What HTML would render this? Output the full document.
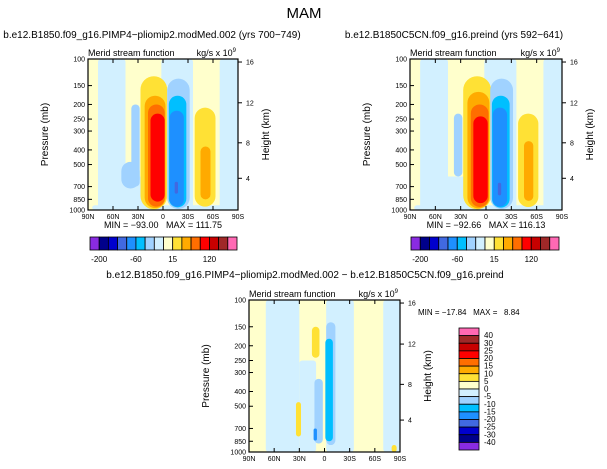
<!DOCTYPE html>
<html><head><meta charset="utf-8"><style>
body{margin:0;background:#fff;width:607px;height:469px;overflow:hidden;font-family:"Liberation Sans",sans-serif}
svg{display:block}
svg text{white-space:pre}
</style></head><body>
<svg id="c" width="607" height="469" xmlns="http://www.w3.org/2000/svg" font-family="Liberation Sans, sans-serif">
<text x="304" y="18" font-size="15" text-anchor="middle">MAM</text>
<text x="152" y="38" font-size="10" text-anchor="middle">b.e12.B1850.f09_g16.PIMP4−pliomip2.modMed.002 (yrs 700−749)</text>
<text x="454" y="38" font-size="10" text-anchor="middle">b.e12.B1850C5CN.f09_g16.preind (yrs 592−641)</text>
<text x="305" y="278" font-size="10" text-anchor="middle">b.e12.B1850.f09_g16.PIMP4−pliomip2.modMed.002 − b.e12.B1850C5CN.f09_g16.preind</text>
</svg>
<script>
const NS='http://www.w3.org/2000/svg';
const svg=document.getElementById('c');
const colors=['#8a2be2','#00008b','#0000cd','#4169e1','#1e90ff','#00bfff','#a0d2ff','#d2f0ff','#ffffcc','#ffe135','#ffaa00','#ff6e00','#ff0000','#c80000','#a02828','#ff69b4'];
const pressureTicks=[100,150,200,250,300,400,500,700,850,1000];
const latTicks=[90,60,30,0,-30,-60,-90];
const latLabels=['90N','60N','30N','0','30S','60S','90S'];
const kmTicks=[4,8,12,16];
const kmY=[0.79,0.555,0.29,0.02];
// blobs: lat0, lat1, p0, p1, level
const leftLat0=[90,78,55,85,2,-10,-68,38,50,27,22,18,15,-5,-7,-8,-14,-38,-45];
const leftLat1=[80,45,20,-90,-35,-36,-90,28,28,-5,-3,-2,-2,-32,-28,-25,-18,-63,-57];
const leftP0=[100,100,600,930,100,100,100,200,480,130,175,200,230,135,175,220,650,210,380];
const leftP1=[1000,1000,1000,1000,150,1000,1000,700,720,990,970,950,880,985,960,950,780,950,850];
const leftLev=[8,7,7,7,7,7,7,6,6,9,10,11,12,6,5,4,3,9,10];
const rightLat0=[90,78,55,85,2,-10,-68,38,27,22,18,15,-5,-7,-8,-14,-38,-45];
const rightLat1=[80,45,20,-90,-35,-36,-90,28,-6,-4,-3,-2,-32,-28,-25,-18,-62,-56];
const rightP0=[100,100,600,930,100,100,100,230,130,165,200,240,135,175,210,660,230,350];
const rightP1=[1000,1000,1000,1000,150,1000,1000,600,990,975,955,900,985,965,950,800,955,870];
const rightLev=[8,7,7,7,7,7,7,6,9,10,11,12,6,5,4,3,9,10];
const diffLat0=[70,30,-2,-70,15,34,-2,12,-1,13,-80];
const diffLat1=[30,10,-35,-90,6,28,-13,2,-10,9,-86];
const diffP0=[100,250,100,100,150,470,140,330,180,700,900];
const diffP1=[1000,1000,1000,1000,240,790,900,880,850,840,1000];
const diffLev=[7,7,7,7,9,9,6,6,5,4,9];
const leftLevels=['-200','-60','15','120'];
const diffLevels=['40','30','25','20','15','10','5','0','-5','-10','-15','-20','-25','-30','-40'];
function el(t,a,p){const e=document.createElementNS(NS,t);for(const k in a)e.setAttribute(k,a[k]);(p||svg).appendChild(e);return e;}
function panel(name,x0,y0,w,h,lat0,lat1,p0,p1,lev,minmax){
  const g=el('g',{});
  
  
  const X=l=>x0+(90-l)/180*w;
  const Y=p=>y0+Math.log10(p/100)*h;
  const clip=el('clipPath',{id:name+'clip'},g);el('rect',{x:x0,y:y0,width:w,height:h},clip);
  const cg=el('g',{'clip-path':'url(#'+name+'clip)'},g);
  el('rect',{x:x0,y:y0,width:w,height:h,fill:colors[8]},cg);
  for(let i=0;i<lat0.length;i++){
    const xa=X(lat0[i]),xb=X(lat1[i]),ya=Y(p0[i]),yb=Y(p1[i]);
    const round=(lev[i]===7||lev[i]===8)?3:Math.min((xb-xa)/2,14);
    const r=el('rect',{x:xa,y:ya,width:xb-xa,height:yb-ya,rx:Math.min((xb-xa)/2,round),ry:Math.min((yb-ya)/2,round),fill:colors[lev[i]]},cg);
    
    
  }
  el('rect',{x:x0,y:y0,width:w,height:h,fill:'none',stroke:'#000','stroke-width':1.2},g);
  pressureTicks.forEach(p=>{const y=Y(p);el('line',{x1:x0,x2:x0+4,y1:y,y2:y,stroke:'#000'},g);
    const t=el('text',{x:x0-3,y:y+2.5,'font-size':7,'text-anchor':'end'},g);t.textContent=p;
    });
  latTicks.forEach((l,i)=>{const x=X(l);el('line',{x1:x,x2:x,y1:y0+h,y2:y0+h-4,stroke:'#000'},g);el('line',{x1:x,x2:x,y1:y0,y2:y0+4,stroke:'#000'},g);
    const t=el('text',{x:x,y:y0+h+9,'font-size':7,'text-anchor':'middle'},g);t.textContent=latLabels[i];
    });
  kmTicks.forEach((k,i)=>{const y=y0+kmY[i]*h;el('line',{x1:x0+w,x2:x0+w+4,y1:y,y2:y,stroke:'#000'},g);
    const t=el('text',{x:x0+w+8,y:y+2.5,'font-size':7},g);t.textContent=k;
    });
  let t=el('text',{x:x0-40,y:y0+h/2,'font-size':10,'text-anchor':'middle',transform:`rotate(-90 ${x0-40} ${y0+h/2})`},g);t.textContent='Pressure (mb)';
  
  t=el('text',{x:x0+w+31,y:y0+h/2,'font-size':10,'text-anchor':'middle',transform:`rotate(-90 ${x0+w+31} ${y0+h/2})`},g);t.textContent='Height (km)';
  
  t=el('text',{x:x0,y:y0-3,'font-size':9},g);t.textContent='Merid stream function';
  
  t=el('text',{x:x0+w-2,y:y0-3,'font-size':9,'text-anchor':'end'},g);t.innerHTML='kg/s x 10<tspan font-size="6" dy="-4">9</tspan>';
  
  if(minmax){t=el('text',{x:x0+w/2,y:y0+h+18,'font-size':9,'text-anchor':'middle'},g);t.textContent=minmax;
    }
}
function hbar(name,x0,y0,w,h){
  const bw=w/16;
  for(let i=0;i<16;i++){const r=el('rect',{x:x0+i*bw,y:y0,width:bw,height:h,fill:colors[i],stroke:'#000','stroke-width':0.8});
    }
  leftLevels.forEach((s,i)=>{const t=el('text',{x:x0+(1+4*i)*bw,y:y0+h+12,'font-size':8,'text-anchor':'middle'});t.textContent=s;
    });
}
panel('left',88,59,150,151,leftLat0,leftLat1,leftP0,leftP1,leftLev,'MIN = −93.00   MAX = 111.75');
panel('right',410,59,152,151,rightLat0,rightLat1,rightP0,rightP1,rightLev,'MIN = −92.66   MAX = 116.13');
panel('diff',249,300,151,152,diffLat0,diffLat1,diffP0,diffP1,diffLev,null);
hbar('left-colorbar',90,237,147,13);
hbar('right-colorbar',411,237,148,13);
let t=el('text',{x:418,y:315,'font-size':8});t.textContent='MIN = −17.84   MAX =   8.84';

const bh=122/16;
for(let i=0;i<16;i++){const r=el('rect',{x:459,y:328+i*bh,width:20,height:bh,fill:colors[15-i],stroke:'#000','stroke-width':0.8});
  }
diffLevels.forEach((s,i)=>{const t=el('text',{x:484,y:328+(i+1)*bh+2.5,'font-size':8});t.textContent=s;
  });
</script>
</body></html>
